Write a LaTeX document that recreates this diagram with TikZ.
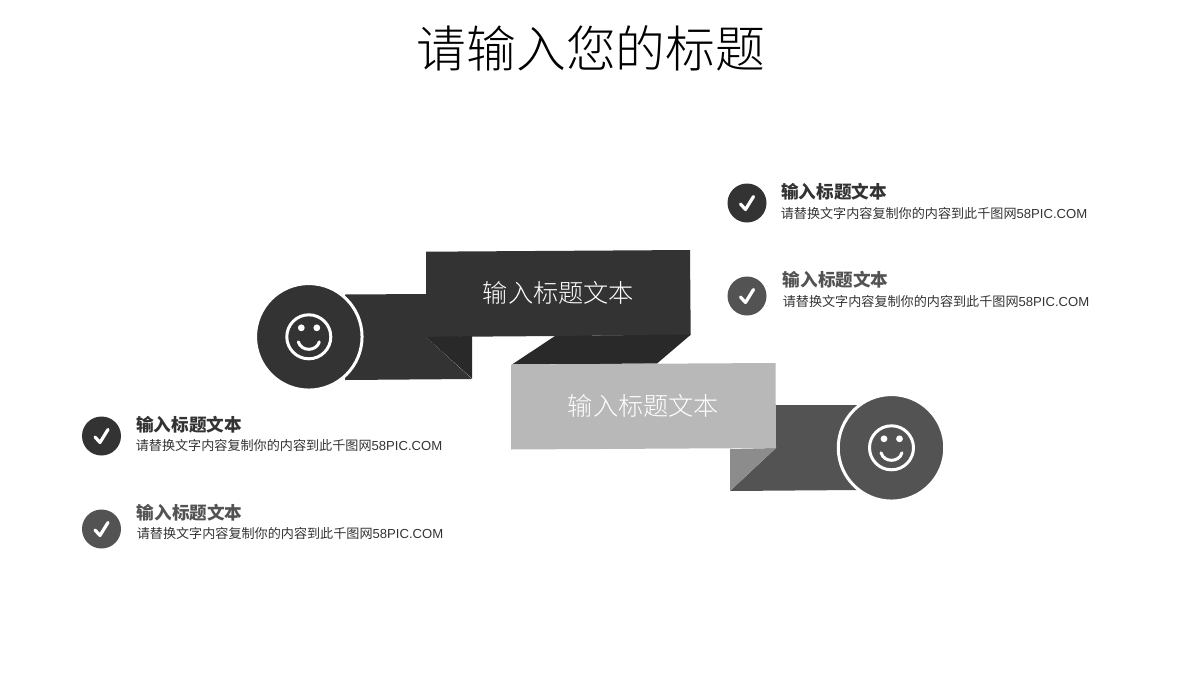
\documentclass[tikz,border=0pt]{standalone}
\usetikzlibrary{calc}
\usepackage{fontspec}
\setmainfont{Liberation Sans}
\newfontfamily\cjk{Noto Sans CJK SC}
\newfontfamily\cjklight{Noto Sans CJK SC Light}
\definecolor{dark}{HTML}{333333}
\definecolor{darker}{HTML}{292929}
\definecolor{mid}{HTML}{535353}
\definecolor{pale}{HTML}{B8B8B8}
\definecolor{fold}{HTML}{8C8C8C}
\tikzset{
  disc/.style={circle,draw=white,line width=3pt,inner sep=0pt,minimum size=106.5pt},
  tick/.style={circle,inner sep=0pt,minimum size=39pt},
  tickmark/.style={white,line width=3.2pt,line cap=round,line join=round},
  face/.style={white,line width=3pt,line cap=round},
  head/.style={anchor=west,inner sep=0pt,font=\cjk\bfseries\fontsize{17.6}{20}\selectfont},
  body/.style={anchor=west,inner sep=0pt,dark,font=\cjk\fontsize{13.1}{15}\selectfont},
  band/.style={white,inner sep=0pt,font=\cjklight\fontsize{25.2}{28}\selectfont}
}
\newcommand{\bodytext}{请替换文字内容复制你的内容到此千图网{\rmfamily 58PIC.COM}}
\begin{document}
\begin{tikzpicture}[x=1pt,y=-1pt]
  \useasboundingbox (0,0) rectangle (1200,675);
  \node (title) at (591,48) {\cjklight\fontsize{49.8}{54}\selectfont 请输入您的标题};

  % upper ribbon
  \fill[dark] (345,294.5) -- (426,294) -- (426,251.7) -- (690,250) -- (690.7,335)
    -- (426,337) -- (472,379) -- (345,380) -- cycle;
  \fill[darker] (426,337) -- (472,336) -- (472,378.5) -- cycle;
  \fill[darker] (555,336) -- (691,334.5) -- (657,363.5) -- (512,364.5) -- cycle;
  \node[disc,fill=dark] (smile1) at (308.8,336.8) {};
  \draw[face] (smile1.center) circle (22);
  \fill[white] ($(smile1.center)+(-7.5,-9)$) circle (3.4);
  \fill[white] ($(smile1.center)+(8,-9)$) circle (3.4);
  \draw[face] ($(smile1.center)+(-10.5,5)$) .. controls +(3,10) and +(-3,10) .. +(21,0);

  % lower ribbon
  \fill[mid] (776,405) -- (858,405) -- (858,490) -- (730,491) -- (776,448) -- cycle;
  \fill[fold] (730,449) -- (776,448) -- (730,491) -- cycle;
  \fill[pale] (511,364.5) -- (775.5,363) -- (776,448) -- (511,449.5) -- cycle;
  \node[disc,fill=mid] (smile2) at (891.5,447.8) {};
  \draw[face] (smile2.center) circle (22);
  \fill[white] ($(smile2.center)+(-7.5,-9)$) circle (3.4);
  \fill[white] ($(smile2.center)+(8,-9)$) circle (3.4);
  \draw[face] ($(smile2.center)+(-10.5,5)$) .. controls +(3,10) and +(-3,10) .. +(21,0);

  \node[band] (label1) at (558.5,293) {输入标题文本};
  \node[band] (label2) at (643.5,405.5) {输入标题文本};

  % check rows
  \node[tick,fill=dark] (check1) at (747,203) {};
  \node[tick,fill=mid] (check2) at (747,296) {};
  \node[tick,fill=dark] (check3) at (101.5,436) {};
  \node[tick,fill=mid] (check4) at (101.5,529) {};
  \foreach \c in {check1,check2,check3,check4}
    \draw[tickmark] ($(\c.center)+(-6.5,1)$) -- ++(5,5.5) -- ++(8,-13);

  \node[head,dark] (head1) at (781,192) {输入标题文本};
  \node[body] (body1) at (780.6,213) {\bodytext};
  \node[head,mid] (head2) at (782.6,280) {输入标题文本};
  \node[body] (body2) at (782.6,301) {\bodytext};
  \node[head,dark] (head3) at (136,424.5) {输入标题文本};
  \node[body] (body3) at (135.6,445.5) {\bodytext};
  \node[head,mid] (head4) at (136.6,512.5) {输入标题文本};
  \node[body] (body4) at (136.6,533.5) {\bodytext};
\end{tikzpicture}
\end{document}
